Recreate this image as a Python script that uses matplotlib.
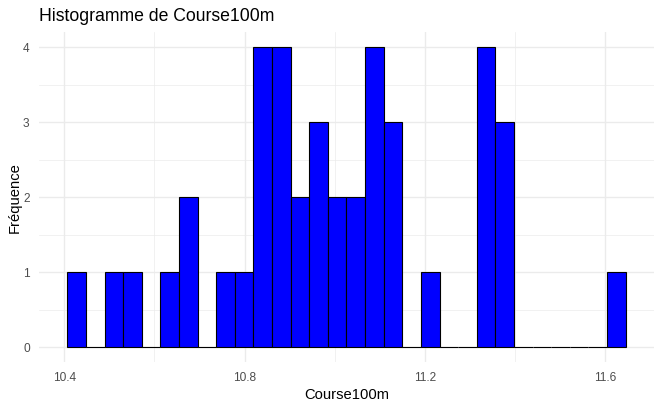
import numpy as np
import matplotlib
matplotlib.use("Agg")
import matplotlib.pyplot as plt

# Histogram of Course100m: 30 bins, counts
bin_start = 10.407
bin_width = 0.04128
counts = [1, 0, 1, 1, 0, 1, 2, 0, 1, 1,
          4, 4, 2, 3, 2, 2, 4, 3, 0, 1,
          0, 0, 4, 3, 0, 0, 0, 0, 0, 1]
x_ticks = [10.4, 10.8, 11.2, 11.6]
x_minor = [10.6, 11.0, 11.4]
y_ticks = [0, 1, 2, 3, 4]

plt.rcParams['font.family'] = ['Liberation Sans', 'DejaVu Sans']

fig = plt.figure(figsize=(6.61, 4.08), dpi=100)
ax = fig.add_axes([0.0596, 0.112, 0.9292, 0.8088])

lefts = bin_start + bin_width * np.arange(len(counts))
ax.bar(lefts, counts, width=bin_width, align='edge',
       color='#0000FF', edgecolor='black', linewidth=0.8, zorder=3)

span = bin_width * len(counts)
ax.set_xlim(bin_start - 0.05 * span, bin_start + 1.05 * span)
ax.set_ylim(-0.2, 4.2)

#### theme_minimal look
for s in ax.spines.values():
    s.set_visible(False)
ax.set_xticks(x_ticks)
ax.set_xticks(x_minor, minor=True)
ax.set_yticks(y_ticks)
ax.set_yticks([0.5, 1.5, 2.5, 3.5], minor=True)
ax.grid(which='major', color='#EBEBEB', linewidth=1.0, zorder=0)
ax.grid(which='minor', color='#EBEBEB', linewidth=0.5, zorder=0)
ax.set_axisbelow(True)
ax.tick_params(which='both', length=0, labelsize=8.6, labelcolor='#4D4D4D')
ax.tick_params(axis='x', pad=7)
ax.tick_params(axis='y', pad=7)

ax.set_xlabel('Course100m', fontsize=10.6, labelpad=3)
ax.set_ylabel('Fréquence', fontsize=10.6, labelpad=1)
ax.set_title('Histogramme de Course100m', fontsize=12.7, loc='left', pad=8, x=0.0)

fig.savefig('out.png', dpi=100)
